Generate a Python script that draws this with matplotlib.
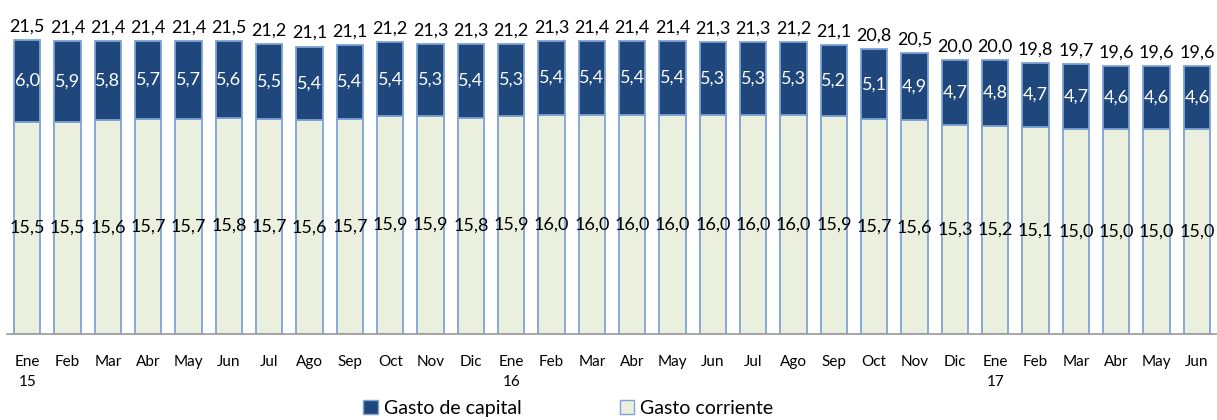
import matplotlib
matplotlib.use("Agg")
import matplotlib.pyplot as plt
from matplotlib.patches import Patch
import numpy as np

months = ["Ene\n15", "Feb", "Mar", "Abr", "May", "Jun", "Jul", "Ago", "Sep", "Oct", "Nov", "Dic",
          "Ene\n16", "Feb", "Mar", "Abr", "May", "Jun", "Jul", "Ago", "Sep", "Oct", "Nov", "Dic",
          "Ene\n17", "Feb", "Mar", "Abr", "May", "Jun"]
capital = [6.0, 5.9, 5.8, 5.7, 5.7, 5.6, 5.5, 5.4, 5.4, 5.4, 5.3, 5.4, 5.3, 5.4, 5.4, 5.4, 5.4, 5.3,
           5.3, 5.3, 5.2, 5.1, 4.9, 4.7, 4.8, 4.7, 4.7, 4.6, 4.6, 4.6]
corriente = [15.5, 15.5, 15.6, 15.7, 15.7, 15.8, 15.7, 15.6, 15.7, 15.9, 15.9, 15.8, 15.9, 16.0, 16.0,
             16.0, 16.0, 16.0, 16.0, 16.0, 15.9, 15.7, 15.6, 15.3, 15.2, 15.1, 15.0, 15.0, 15.0, 15.0]
total = [21.5, 21.4, 21.4, 21.4, 21.4, 21.5, 21.2, 21.1, 21.1, 21.2, 21.3, 21.3, 21.2, 21.3, 21.4,
         21.4, 21.4, 21.3, 21.3, 21.2, 21.1, 20.8, 20.5, 20.0, 20.0, 19.8, 19.7, 19.6, 19.6, 19.6]

plt.rcParams['font.family'] = ['Lato', 'DejaVu Sans']

fig = plt.figure(figsize=(12.17, 4.20), dpi=100)
ax = fig.add_axes([0.0058, 0.205, 0.9942, 0.795])

x = np.arange(len(months))
navy = "#1F477B"
light = "#EBF0DE"
edge = "#7EA3D6"
w = 0.65
ax.bar(x, corriente, w, color=light, edgecolor=edge, linewidth=1.3, label="Gasto corriente")
ax.bar(x, capital, w, bottom=corriente, color=navy, edgecolor=edge, linewidth=1.3,
       label="Gasto de capital")

fmt = lambda v: f"{v:.1f}".replace(".", ",")
for i in range(len(x)):
    ax.text(x[i], corriente[i] / 2, fmt(corriente[i]), ha="center", va="center",
            fontsize=13, color="black")
    ax.text(x[i], corriente[i] + capital[i] / 2, fmt(capital[i]), ha="center", va="center",
            fontsize=13, color="white")
    ax.text(x[i], corriente[i] + capital[i] + 0.4, fmt(total[i]), ha="center", va="bottom",
            fontsize=13, color="black")

ax.set_xlim(-0.5, len(x) - 0.5)
ax.set_ylim(0, 24.4)
for s in ["top", "right", "left"]:
    ax.spines[s].set_visible(False)
ax.spines["bottom"].set_color("#A0A0A0")
ax.spines["bottom"].set_linewidth(1.3)
ax.set_yticks([])
ax.set_xticks(x)
ax.set_xticklabels(months, fontsize=11, linespacing=1.6)
ax.tick_params(axis="x", length=0, pad=15)

handles = [Patch(facecolor=navy, edgecolor=edge, label="Gasto de capital"),
           Patch(facecolor=light, edgecolor=edge, label="Gasto corriente")]
fig.legend(handles=handles, loc="center", bbox_to_anchor=(0.467, 0.028), ncol=2, frameon=False,
           fontsize=14, handlelength=0.75, handleheight=0.75, handletextpad=0.3, columnspacing=5.05)

fig.savefig("out.png", dpi=100)
